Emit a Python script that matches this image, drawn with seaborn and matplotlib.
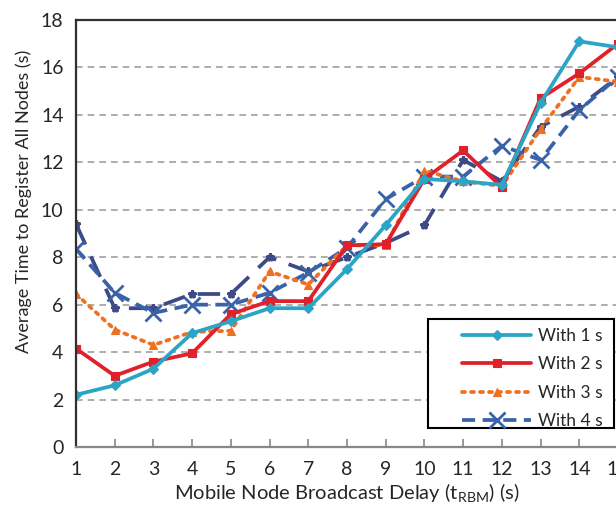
import matplotlib
matplotlib.use("Agg")
import matplotlib.pyplot as plt
from matplotlib.patches import Rectangle
import seaborn as sns

# Broadcast delay values (s) and average registration times per update interval
delay = [1, 2, 3, 4, 5, 6, 7, 8, 9, 10, 11, 12, 13, 14, 15]
with_1s = [2.2, 2.6, 3.3, 4.8, 5.3, 5.85, 5.85, 7.5, 9.35, 11.3, 11.2, 11.05, 14.5, 17.1, 16.85]
with_2s = [4.15, 3.0, 3.6, 3.95, 5.6, 6.15, 6.15, 8.5, 8.55, 11.3, 12.5, 10.95, 14.7, 15.75, 17.0]
with_3s = [6.45, 4.95, 4.3, 4.85, 4.9, 7.4, 6.85, 8.5, 8.5, 11.65, 11.2, 11.0, 13.4, 15.6, 15.4]
with_4s = [8.35, 6.5, 5.65, 6.0, 6.0, 6.5, 7.35, 8.4, 10.45, 11.4, 11.4, 12.7, 12.1, 14.2, 15.6]
with_5s = [9.4, 5.85, 5.85, 6.45, 6.45, 8.0, 7.4, 8.0, 8.6, 9.35, 12.1, 11.2, 13.5, 14.35, 15.6]

legend_labels = ["With 1 s", "With 2 s", "With 3 s", "With 4 s"]
y_ticks = [0, 2, 4, 6, 8, 10, 12, 14, 16, 18]

sns.set_theme(style="white")
plt.rcParams["font.family"] = ["Lato", "DejaVu Sans"]
plt.rcParams["mathtext.fontset"] = "custom"
plt.rcParams["mathtext.rm"] = "Lato"

W, H = 616, 505
fig = plt.figure(figsize=(W / 100, H / 100), dpi=100)
ax = fig.add_axes([76 / W, 58 / H, 542 / W, 427 / H])

ax.yaxis.grid(True, color="#a0a0a0", linestyle=(0, (4, 3)), linewidth=1.2)
ax.set_axisbelow(True)

series = [
    (with_5s, "#3d4a86", "*", 6, (0, (6, 3.5)), None),
    (with_4s, "#3a62a8", "x", 11, (0, (3.5, 2)), legend_labels[3]),
    (with_3s, "#f07022", "^", 6, (0, (0.8, 1.6)), legend_labels[2]),
    (with_2s, "#e0202a", "s", 6, "-", legend_labels[1]),
    (with_1s, "#2aa5c6", "D", 5.5, "-", legend_labels[0]),
]

handles = {}
for vals, col, mk, ms, ls, lab in series:
    sns.lineplot(x=delay, y=vals, ax=ax, color=col, marker=mk, markersize=ms,
                 markeredgewidth=2 if mk in ("x", "*") else 0.8,
                 markeredgecolor=col, linewidth=2.7, linestyle=ls,
                 dash_capstyle="butt", legend=False)
    line = ax.lines[-1]
    if ls == (0, (0.8, 1.6)):
        line.set_dash_capstyle("round")
    if lab is not None:
        handles[lab] = line

ax.set_xlim(1, 15)
ax.set_ylim(0, 18)
ax.set_xticks(delay)
ax.set_yticks(y_ticks)
ax.tick_params(axis="x", direction="in", length=6, width=1.2, color="#888888",
               labelsize=14, pad=10, bottom=True)
ax.tick_params(axis="y", length=0, labelsize=14, pad=9)

for side in ("left", "top"):
    ax.spines[side].set_color("#303030")
    ax.spines[side].set_linewidth(1.6)
ax.spines["bottom"].set_color("#888888")
ax.spines["bottom"].set_linewidth(1.6)
ax.spines["right"].set_visible(False)

ax.set_ylabel("Average Time to Register All Nodes (s)", fontsize=13)
ax.yaxis.set_label_coords(-0.082, 0.575)
ax.set_xlabel(r"Mobile Node Broadcast Delay (t$_{\mathregular{RBM}}$) (s)",
              fontsize=14.5)
ax.xaxis.set_label_coords(0.50, -0.082)

# Legend box drawn separately so the entries can sit inset within it
ax.add_patch(Rectangle((0.6494, 0.0445), 0.3432, 0.2553, transform=ax.transAxes,
                       facecolor="white", edgecolor="black", linewidth=1.5,
                       zorder=4.9, clip_on=False))
leg = ax.legend(handles=[handles[l] for l in legend_labels], labels=legend_labels,
                loc="upper left", bbox_to_anchor=(0.712, 0.279), fontsize=12.5,
                frameon=False, handlelength=4.0, handletextpad=0.4,
                borderpad=0, labelspacing=0.72, borderaxespad=0)
leg.set_zorder(5)

fig.savefig("out.png", dpi=100)
